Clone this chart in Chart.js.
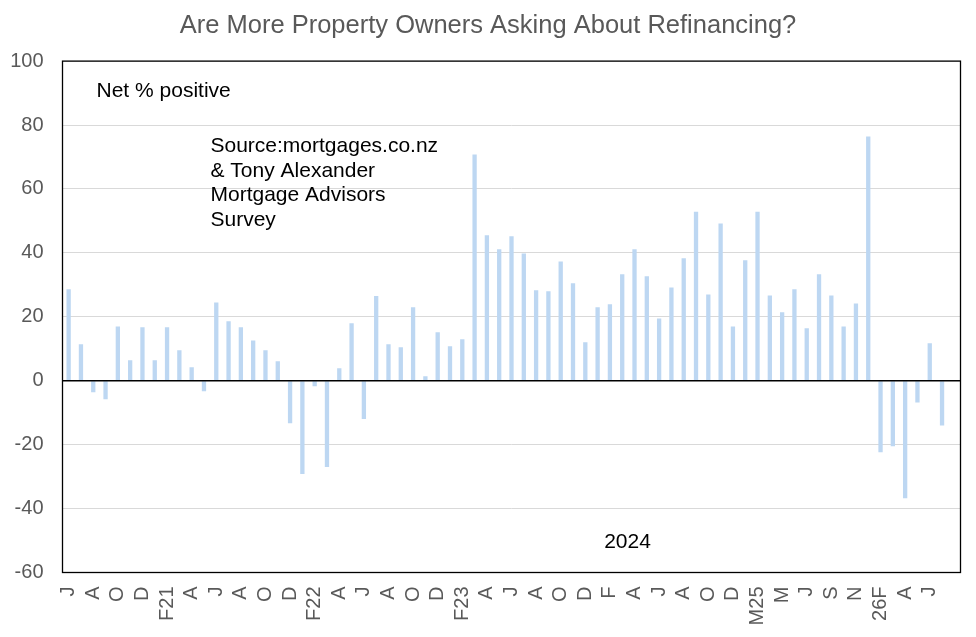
<!DOCTYPE html>
<html>
<head>
<meta charset="utf-8">
<script src="https://cdn.jsdelivr.net/npm/chart.js@4.4.1/dist/chart.umd.min.js"></script>
<style>
  html, body { margin: 0; padding: 0; background: #ffffff; }
  #wrap { width: 976px; height: 637px; position: relative; }
</style>
</head>
<body>
<div id="wrap"><canvas id="c"></canvas></div>
<script>
// ---- Data ----
const categories = [
  'Jun 2020','Jul 2020','Aug 2020','Sep 2020','Oct 2020','Nov 2020','Dec 2020',
  'Jan 2021','Feb 2021','Mar 2021','Apr 2021','May 2021','Jun 2021','Jul 2021','Aug 2021','Sep 2021','Oct 2021','Nov 2021','Dec 2021',
  'Jan 2022','Feb 2022','Mar 2022','Apr 2022','May 2022','Jun 2022','Jul 2022','Aug 2022','Sep 2022','Oct 2022','Nov 2022','Dec 2022',
  'Jan 2023','Feb 2023','Mar 2023','Apr 2023','May 2023','Jun 2023','Jul 2023','Aug 2023','Sep 2023','Oct 2023','Nov 2023','Dec 2023',
  'Jan 2024','Feb 2024','Mar 2024','Apr 2024','May 2024','Jun 2024','Jul 2024','Aug 2024','Sep 2024','Oct 2024','Nov 2024','Dec 2024',
  'Feb 2025','Mar 2025','Apr 2025','May 2025','Jun 2025','Jul 2025','Aug 2025','Sep 2025','Oct 2025','Nov 2025','Dec 2025',
  'Feb 2026','Mar 2026','Apr 2026','May 2026','Jun 2026','Jul 2026','Aug 2026'
];

const tickLabels = [
  'J','','A','','O','','D','','F21','','A','',
  'J','','A','','O','','D','','F22','','A','',
  'J','','A','','O','','D','','F23','','A','',
  'J','','A','','O','','D','','F','','A','',
  'J','','A','','O','','D','','M25','','M','',
  'J','','S','','N','','26F','','A','',
  'J','',''
];

const netPositive = [
  28.6, 11.4, -3.6, -5.8, 17.0, 6.4, 16.7,
  6.4, 16.7, 9.5, 4.2, -3.3, 24.5, 18.6, 16.7, 12.6, 9.5, 6.1, -13.3,
  -29.2, -1.7, -27.0, 3.9, 18.0, -12.0, 26.5, 11.4, 10.5, 23.0, 1.4, 15.2,
  10.8, 13.0, 70.8, 45.5, 41.1, 45.2, 39.8, 28.3, 28.0, 37.3, 30.5, 12.0,
  23.0, 23.9, 33.3, 41.1, 32.7, 19.5, 29.2, 38.3, 52.9, 27.0, 49.2, 17.0,
  37.7, 52.9, 26.7, 21.4, 28.6, 16.4, 33.3, 26.7, 17.0, 24.2, 76.4,
  -22.4, -20.5, -36.8, -6.8, 11.7, -14.0, null
];

const yTicks = [100, 80, 60, 40, 20, 0, -20, -40, -60];

const titleText = 'Are More Property Owners Asking About Refinancing?';
const unitNote = 'Net % positive';
const sourceNote = ['Source:mortgages.co.nz', '& Tony Alexander', 'Mortgage Advisors', 'Survey'];
const yearNote = '2024';

// ---- Styling ----
const FONT = '"Liberation Sans", Arial, Helvetica, sans-serif';
const GREY = '#595959';
const BAR = 'rgb(189,215,242)';

const framePlugin = {
  id: 'frame',
  afterDatasetsDraw(chart) {
    const { ctx, chartArea: a, scales } = chart;
    ctx.save();
    const y0 = scales.y.getPixelForValue(0);
    ctx.strokeStyle = '#000000';
    ctx.lineWidth = 1.3;
    ctx.beginPath();
    ctx.moveTo(a.left, y0);
    ctx.lineTo(a.right, y0);
    ctx.stroke();
    ctx.strokeRect(a.left, a.top, a.right - a.left, a.bottom - a.top);
    ctx.restore();
  },
  afterDraw(chart) {
    const { ctx, chartArea: a } = chart;
    ctx.save();
    ctx.fillStyle = '#000000';
    ctx.font = '21px ' + FONT;
    ctx.textBaseline = 'alphabetic';
    ctx.textAlign = 'left';
    ctx.fillText(unitNote, a.left + 34, a.top + 36);
    sourceNote.forEach((line, i) => {
      ctx.fillText(line, a.left + 148, a.top + 91 + i * 24.5);
    });
    ctx.textAlign = 'center';
    ctx.fillText(yearNote, a.left + 565, a.top + 487);
    ctx.restore();
  }
};

const ctx = document.getElementById('c').getContext('2d');
new Chart(ctx, {
  type: 'bar',
  data: {
    labels: categories,
    datasets: [{
      label: 'Net % positive',
      data: netPositive,
      backgroundColor: BAR,
      borderWidth: 0,
      categoryPercentage: 1.0,
      barPercentage: 0.35
    }]
  },
  options: {
    responsive: true,
    maintainAspectRatio: false,
    animation: false,
    layout: { padding: 0 },
    plugins: {
      legend: { display: false },
      tooltip: { enabled: false },
      title: {
        display: true,
        text: titleText,
        color: GREY,
        font: { family: FONT, size: 25.5, weight: 'normal', lineHeight: 1.2 },
        padding: { top: 11, bottom: 19.5 }
      }
    },
    scales: {
      x: {
        grid: { display: false, drawTicks: false },
        border: { display: false },
        ticks: {
          autoSkip: false,
          minRotation: 90,
          maxRotation: 90,
          padding: 14,
          color: GREY,
          font: { family: FONT, size: 20 },
          callback: (v, i) => tickLabels[i]
        },
        afterFit: (s) => { s.height = 64.5; s.paddingLeft = 0; s.paddingRight = 15.5; }
      },
      y: {
        min: -60,
        max: 100,
        afterBuildTicks: (s) => { s.ticks = yTicks.map(v => ({ value: v })); },
        grid: { color: '#d9d9d9', lineWidth: 1, drawTicks: false },
        border: { display: false },
        ticks: {
          padding: 19,
          color: GREY,
          font: { family: FONT, size: 20 }
        },
        afterFit: (s) => { s.width = 62.5; }
      }
    }
  },
  plugins: [framePlugin]
});
</script>
</body>
</html>
